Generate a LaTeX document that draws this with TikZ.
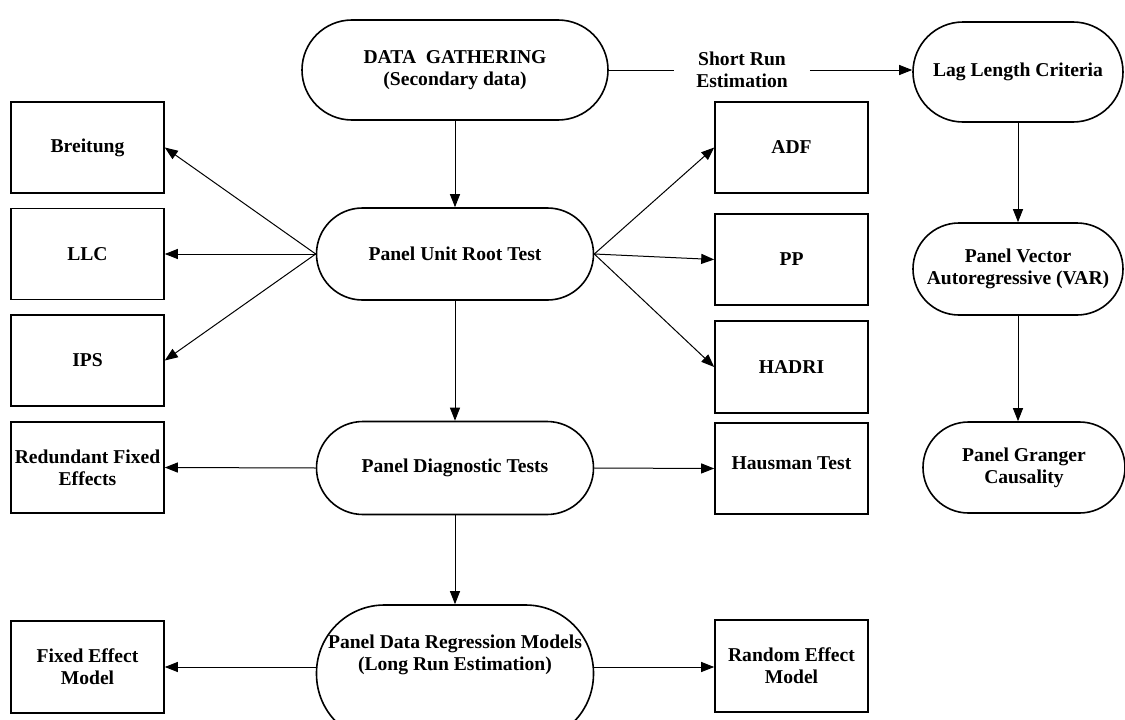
\documentclass[tikz,border=0pt]{standalone}
\usepackage{fontspec}
\setmainfont{Liberation Serif}
\usetikzlibrary{arrows.meta}
\begin{document}
\begin{tikzpicture}[x=1pt,y=-1pt,
  lbl/.style={font=\fontsize{19.6}{22}\selectfont\bfseries, align=center},
  pill/.style={lbl, draw, line width=1.6pt, rounded corners=#1, inner sep=0pt},
  rbox/.style={lbl, draw, line width=1.6pt, minimum width=153pt, minimum height=91pt, inner sep=0pt},
  arr/.style={-{Triangle[length=13pt,width=10pt]}, line width=1pt},
  ln/.style={line width=1pt}]
\fill[white] (0,0) rectangle (1125,720);
\useasboundingbox (0,0) rectangle (1125,720);

% main column
\node[pill=50pt,minimum width=306pt,minimum height=100pt] (dg) at (455,70) {DATA\ \ GATHERING\\(Secondary data)};
\node[pill=46pt,minimum width=277pt,minimum height=92pt] (pur) at (455,254) {Panel Unit Root Test};
\node[pill=46.5pt,minimum width=277pt,minimum height=93pt] (pdt) at (455,468) {Panel Diagnostic Tests};
\node[pill=68pt,minimum width=277pt,minimum height=137pt] (pdr) at (455,673.5) {};
\node[lbl] (pdrt) at (455,655) {Panel Data Regression Models\\(Long Run Estimation)};

% short run branch
\node[lbl, inner xsep=22pt, inner ysep=2pt] (sr) at (742,70) {Short Run\\Estimation};
\node[pill=50pt,minimum width=210pt,minimum height=100pt] (lag) at (1018,72) {Lag Length Criteria};
\node[pill=46pt,minimum width=210pt,minimum height=92pt] (var) at (1018,269) {Panel Vector\\Autoregressive (VAR)};
\node[pill=45.5pt,minimum width=202pt,minimum height=91pt] (gc) at (1024,467.5) {Panel Granger\\Causality};

% left boxes
\node[rbox] (br)  at (87.5,147.5) {Breitung};
\node[rbox] (llc) at (87.5,254) {LLC};
\node[rbox] (ips) at (87.5,360.5) {IPS};
\node[rbox] (rfe) at (87.5,467.5) {Redundant Fixed\\Effects};
\node[rbox, minimum height=92pt] (fem) at (87.5,667) {Fixed Effect\\Model};

% right boxes
\node[rbox] (adf)   at (791.5,147.5) {ADF};
\node[rbox] (pp)    at (791.5,259.5) {PP};
\node[rbox, minimum height=92pt] (hadri) at (791.5,367) {HADRI};
\node[rbox] (haus)  at (791.5,468.5) {\raisebox{11pt}{Hausman Test}};
\node[rbox, minimum height=92pt] (rem) at (791.5,666) {Random Effect\\Model};

% connectors
\draw[ln] (dg.east) -- (dg.east -| sr.west);
\draw[arr] (dg.east -| sr.east) -- (dg.east -| lag.west);
\draw[arr] (lag.south) -- (var.north);
\draw[arr] (var.south) -- (var.south |- gc.north);
\draw[arr] (dg.south) -- (pur.north);
\draw[arr] (pur.west) -- (br.east);
\draw[arr] (pur.west) -- (llc.east);
\draw[arr] (pur.west) -- (ips.east);
\draw[arr] (pur.east) -- (adf.west);
\draw[arr] (pur.east) -- (pp.west);
\draw[arr] (pur.east) -- (hadri.west);
\draw[arr] (pur.south) -- (pdt.north);
\draw[arr] (pdt.west) -- (rfe.east);
\draw[arr] (pdt.east) -- (haus.west);
\draw[arr] (pdt.south) -- (pdr.north);
\draw[arr] (fem.east -| pdr.west) -- (fem.east);
\draw[arr] (fem.east -| pdr.east) -- (fem.east -| rem.west);
\end{tikzpicture}
\end{document}
